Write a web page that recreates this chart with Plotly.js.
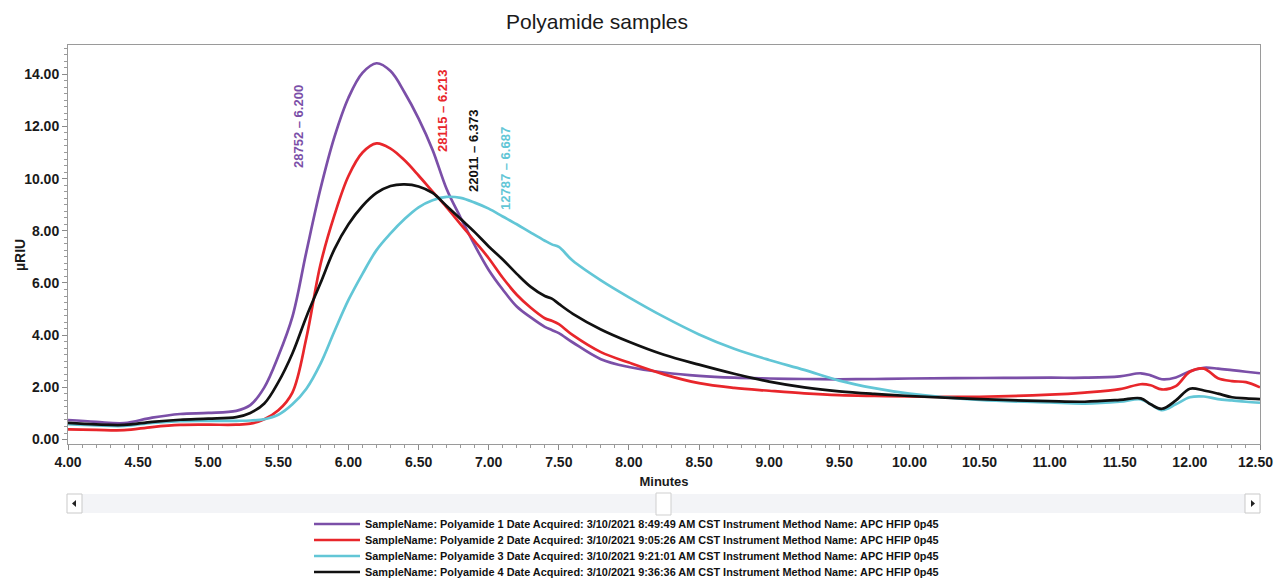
<!DOCTYPE html>
<html>
<head>
<meta charset="utf-8">
<script src="https://cdn.plot.ly/plotly-3.0.1.min.js"></script>
<style>html,body{margin:0;padding:0;background:#fff;}#chart{width:1276px;height:580px;}</style>
</head>
<body>
<div id="chart"></div>
<script>
const minutes = [4.0,4.2,4.4,4.6,4.8,5.0,5.2,5.3,5.4,5.5,5.6,5.7,5.8,5.9,6.0,6.1,6.2,6.3,6.4,6.5,6.6,6.7,6.8,6.9,7.0,7.1,7.2,7.3,7.4,7.45,7.5,7.6,7.8,8.0,8.25,8.5,8.75,9.0,9.25,9.5,9.75,10.0,10.5,11.0,11.25,11.5,11.65,11.72,11.8,11.9,12.0,12.1,12.2,12.3,12.4,12.5];

const polyamide1 = [0.75,0.68,0.63,0.84,0.98,1.02,1.10,1.32,2.0,3.2,4.7,7.2,9.6,11.6,13.1,14.05,14.42,14.12,13.3,12.3,11.1,9.6,8.5,7.45,6.5,5.75,5.1,4.68,4.32,4.2,4.08,3.72,3.08,2.78,2.57,2.44,2.37,2.34,2.32,2.31,2.32,2.34,2.36,2.37,2.37,2.42,2.54,2.46,2.31,2.38,2.62,2.75,2.72,2.66,2.6,2.54];
const polyamide2 = [0.39,0.37,0.36,0.48,0.56,0.57,0.57,0.61,0.78,1.12,1.8,3.9,6.7,8.6,10.1,11.0,11.35,11.15,10.7,10.12,9.5,8.9,8.25,7.6,6.95,6.2,5.55,5.05,4.65,4.55,4.42,4.0,3.35,2.95,2.5,2.16,1.98,1.87,1.77,1.7,1.67,1.65,1.64,1.72,1.8,1.93,2.12,2.08,1.92,2.05,2.6,2.72,2.35,2.24,2.2,2.0];
const polyamide3 = [0.59,0.54,0.52,0.64,0.71,0.72,0.72,0.73,0.78,0.95,1.35,1.95,2.9,4.15,5.35,6.35,7.26,7.9,8.45,8.9,9.17,9.3,9.26,9.08,8.85,8.55,8.25,7.93,7.62,7.48,7.38,6.85,6.1,5.45,4.7,4.03,3.48,3.05,2.67,2.26,1.97,1.76,1.52,1.42,1.38,1.45,1.54,1.35,1.13,1.35,1.62,1.65,1.55,1.5,1.45,1.41];
const polyamide4 = [0.64,0.58,0.56,0.68,0.76,0.80,0.86,1.02,1.38,2.2,3.3,4.71,5.99,7.3,8.25,8.95,9.45,9.72,9.78,9.7,9.45,8.95,8.45,7.95,7.4,6.9,6.35,5.85,5.5,5.4,5.2,4.82,4.22,3.75,3.25,2.87,2.52,2.22,2.0,1.85,1.75,1.67,1.55,1.47,1.45,1.52,1.58,1.35,1.18,1.5,1.95,1.88,1.76,1.62,1.58,1.55];

const xTickVals = [4.0,4.5,5.0,5.5,6.0,6.5,7.0,7.5,8.0,8.5,9.0,9.5,10.0,10.5,11.0,11.5,12.0,12.5];
const xTickText = ['4.00','4.50','5.00','5.50','6.00','6.50','7.00','7.50','8.00','8.50','9.00','9.50','10.00','10.50','11.00','11.50','12.00','12.50'];

const seriesNames = [
  'SampleName: Polyamide 1 Date Acquired: 3/10/2021 8:49:49 AM CST Instrument Method Name: APC HFIP 0p45',
  'SampleName: Polyamide 2 Date Acquired: 3/10/2021 9:05:26 AM CST Instrument Method Name: APC HFIP 0p45',
  'SampleName: Polyamide 3 Date Acquired: 3/10/2021 9:21:01 AM CST Instrument Method Name: APC HFIP 0p45',
  'SampleName: Polyamide 4 Date Acquired: 3/10/2021 9:36:36 AM CST Instrument Method Name: APC HFIP 0p45'
];
const peakLabels = ['28752 \u2013 6.200','28115 \u2013 6.213','12787 \u2013 6.687','22011 \u2013 6.373'];
const seriesValues = [polyamide1, polyamide2, polyamide3, polyamide4];
const colors = ['#7B4FA8','#E8262B','#62C6D6','#111111'];

const W = 1276, H = 580;
const M = {l: 68, r: 16, t: 45, b: 136, autoexpand: false};
const PW = W - M.l - M.r, PH = H - M.t - M.b;
const px = x => (x - M.l) / PW;
const py = y => (H - M.b - y) / PH;

const FONT = 'Liberation Sans, Arial, sans-serif';

const legendRows = [524, 540, 556, 572];
const traces = seriesValues.map((vals, i) => ({
  type: 'scatter', mode: 'lines', x: minutes, y: vals, name: seriesNames[i],
  line: {color: colors[i], width: 2.7, shape: 'spline', smoothing: 1},
  legend: i === 0 ? 'legend' : 'legend' + (i + 1),
  hoverinfo: 'x+y'
}));

const labelPos = [[298,127],[442,111],[505,169],[473,151]];
const annotations = peakLabels.map((t, i) => ({
  text: '<b>' + t + '</b>', xref: 'paper', yref: 'paper',
  x: px(labelPos[i][0]), y: py(labelPos[i][1]), textangle: -90,
  showarrow: false, xanchor: 'center', yanchor: 'middle',
  font: {family: FONT, size: 13, color: colors[i]}
}));
annotations.push({
  text: '<b>\u00b5RIU</b>', xref: 'paper', yref: 'paper', x: px(20), y: py(255),
  textangle: -90, showarrow: false, xanchor: 'center', yanchor: 'middle',
  font: {family: FONT, size: 14, color: '#1a1a1a'}
});
// last x tick label, nudged so it stays inside the picture
annotations.push({
  text: '<b>' + xTickText[xTickText.length - 1] + '</b>', xref: 'paper', yref: 'paper',
  x: px(1275), y: py(462), xanchor: 'right', yanchor: 'middle', showarrow: false,
  font: {family: FONT, size: 14, color: '#1a1a1a'}
});

const legendBase = {
  xref: 'paper', yref: 'paper', x: px(309), xanchor: 'left', yanchor: 'middle',
  bgcolor: 'rgba(0,0,0,0)', borderwidth: 0, itemwidth: 46,
  font: {family: FONT, size: 10.9, color: '#111', weight: 'bold'}, itemclick: false, itemdoubleclick: false
};
const legends = {};
legendRows.forEach((r, i) => {
  legends[i === 0 ? 'legend' : 'legend' + (i + 1)] = Object.assign({}, legendBase, {y: py(r)});
});

// scrollbar decoration
const sbTop = 494, sbBot = 513, sbL = 67, sbR = 1260;
const shapes = [
  {type: 'rect', xref: 'paper', yref: 'paper', x0: px(sbL), x1: px(sbR), y0: py(sbBot), y1: py(sbTop), fillcolor: '#f3f4f7', line: {width: 0}},
  {type: 'rect', xref: 'paper', yref: 'paper', x0: px(sbL), x1: px(sbL + 15), y0: py(sbBot), y1: py(sbTop), fillcolor: '#ffffff', line: {color: '#c9c9c9', width: 1}},
  {type: 'rect', xref: 'paper', yref: 'paper', x0: px(sbR - 15), x1: px(sbR), y0: py(sbBot), y1: py(sbTop), fillcolor: '#ffffff', line: {color: '#c9c9c9', width: 1}},
  {type: 'rect', xref: 'paper', yref: 'paper', x0: px(656), x1: px(671), y0: py(515), y1: py(493), fillcolor: '#ffffff', line: {color: '#cfcfcf', width: 1}},
  {type: 'path', xref: 'paper', yref: 'paper', path: `M ${px(76)} ${py(500)} L ${px(72)} ${py(503.5)} L ${px(76)} ${py(507)} Z`, fillcolor: '#222', line: {width: 0}},
  {type: 'path', xref: 'paper', yref: 'paper', path: `M ${px(1251)} ${py(500)} L ${px(1255)} ${py(503.5)} L ${px(1251)} ${py(507)} Z`, fillcolor: '#222', line: {width: 0}}
];

const layout = Object.assign({
  width: W, height: H, margin: M, autosize: false,
  paper_bgcolor: '#fff', plot_bgcolor: '#fff',
  font: {family: FONT, color: '#222'},
  showlegend: true,
  title: {text: 'Polyamide samples', xref: 'container', yref: 'container', x: 597 / W, xanchor: 'center', y: 1 - 22 / H, yanchor: 'middle', font: {family: FONT, size: 21, color: '#1a1a1a'}},
  xaxis: {
    range: [4, 12.5], tickmode: 'array', tickvals: xTickVals,
    ticktext: xTickText.map((t, i) => i === xTickText.length - 1 ? '' : t),
    ticks: 'outside', ticklen: 5, tickwidth: 1, tickcolor: '#8a8a8a',
    minor: {dtick: 0.1, tick0: 4, ticks: 'outside', ticklen: 3, tickcolor: '#9a9a9a'},
    showline: true, linecolor: '#9a9a9a', linewidth: 1, mirror: true, showgrid: false, zeroline: false,
    tickfont: {family: FONT, size: 14, color: '#1a1a1a', weight: 'bold'}, tickangle: 0, automargin: false,
    title: {text: '<b>Minutes</b>', standoff: 8, font: {family: FONT, size: 13, color: '#1a1a1a'}},
    fixedrange: true
  },
  yaxis: {
    range: [-0.17, 15.12], dtick: 2, tick0: 0, tickformat: '.2f', ticks: 'outside', ticklen: 5, tickwidth: 1, tickcolor: '#8a8a8a',
    minor: {dtick: 0.25, ticks: 'outside', ticklen: 3, tickcolor: '#9a9a9a'},
    showline: true, linecolor: '#9a9a9a', linewidth: 1, mirror: true, showgrid: false, zeroline: false,
    tickfont: {family: FONT, size: 14, color: '#1a1a1a', weight: 'bold'}, automargin: false,
    fixedrange: true
  },
  annotations: annotations,
  shapes: shapes
}, legends);

Plotly.newPlot('chart', traces, layout, {displayModeBar: false});
</script>
</body>
</html>
